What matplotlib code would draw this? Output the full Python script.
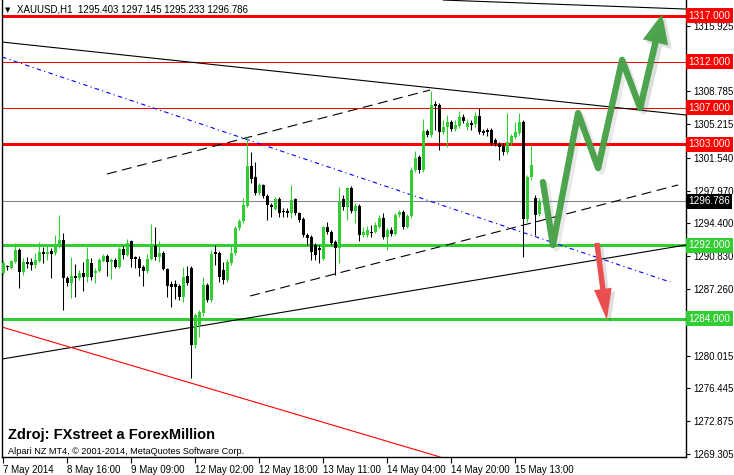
import matplotlib.pyplot as plt
import matplotlib.patheffects as pe
from matplotlib.patches import FancyArrowPatch
from matplotlib.transforms import blended_transform_factory

plt.rcParams['font.family'] = ['Liberation Sans', 'DejaVu Sans']

# XAUUSD H1 candles, one per hour (index = bar number)
opens = [1289.0, 1289.7, 1289.5, 1290.2, 1291.5, 1289.1, 1290.2, 1290.2, 1289.9, 1290.3,
         1291.3, 1291.1, 1291.4, 1291.2, 1291.8, 1292.6, 1288.5, 1287.9, 1288.7, 1288.5,
         1289.0, 1288.6, 1290.1, 1289.0, 1289.2, 1290.3, 1290.8, 1290.2, 1290.4, 1289.7,
         1291.6, 1291.0, 1292.5, 1290.7, 1290.5, 1289.7, 1289.2, 1290.5, 1291.9, 1290.7,
         1291.2, 1289.4, 1287.8, 1287.8, 1287.6, 1286.4, 1288.7, 1289.5, 1281.2, 1283.3,
         1284.6, 1287.7, 1286.1, 1291.3, 1291.2, 1289.3, 1288.2, 1290.1, 1291.2, 1293.9,
         1294.7, 1296.3, 1300.6, 1299.4, 1297.7, 1298.6, 1297.4, 1296.4, 1296.0, 1297.0,
         1295.7, 1295.7, 1295.5, 1297.0, 1295.5, 1294.9, 1293.1, 1292.9, 1292.0, 1291.7,
         1290.5, 1294.0, 1293.5, 1292.4, 1291.7, 1297.0, 1296.2, 1298.2, 1295.7, 1296.3,
         1293.1, 1293.1, 1293.5, 1293.5, 1294.0, 1295.0, 1292.9, 1293.7, 1293.2, 1295.3,
         1295.6, 1294.0, 1295.2, 1300.2, 1301.6, 1300.2, 1304.5, 1304.0, 1307.4, 1307.3,
         1304.3, 1304.9, 1305.4, 1304.7, 1305.0, 1306.0, 1304.9, 1305.3, 1305.2, 1306.1,
         1304.4, 1304.6, 1304.6, 1303.5, 1303.0, 1302.8, 1302.2, 1303.1, 1303.8, 1304.2,
         1305.4, 1294.9, 1299.4, 1297.2, 1295.403]
highs = [1290.4, 1289.9, 1290.4, 1292.3, 1291.7, 1290.6, 1290.7, 1290.6, 1291.2, 1292.4,
         1291.8, 1291.9, 1291.7, 1293.1, 1295.3, 1293.3, 1288.7, 1290.7, 1290.0, 1289.3,
         1290.2, 1291.8, 1290.6, 1289.5, 1290.6, 1291.1, 1291.1, 1290.6, 1290.6, 1291.8,
         1291.9, 1292.7, 1292.6, 1290.9, 1290.9, 1289.9, 1291.1, 1294.3, 1294.0, 1292.5,
         1291.4, 1289.5, 1288.1, 1288.2, 1287.8, 1289.6, 1289.8, 1289.8, 1284.6, 1285.0,
         1288.6, 1287.9, 1291.5, 1292.0, 1291.4, 1290.2, 1290.5, 1292.0, 1294.1, 1294.9,
         1297.2, 1303.8, 1302.2, 1301.1, 1298.8, 1298.7, 1297.6, 1296.6, 1297.3, 1297.3,
         1296.1, 1296.1, 1298.6, 1297.2, 1295.6, 1295.1, 1293.3, 1293.1, 1292.3, 1292.1,
         1294.1, 1294.6, 1293.7, 1292.6, 1298.4, 1297.5, 1298.4, 1298.5, 1296.6, 1296.5,
         1294.0, 1294.1, 1294.2, 1294.5, 1295.3, 1295.5, 1293.9, 1294.0, 1295.5, 1295.9,
         1295.9, 1295.4, 1300.5, 1302.3, 1301.8, 1305.8, 1304.7, 1308.8, 1307.7, 1307.5,
         1305.6, 1306.2, 1305.6, 1305.6, 1306.6, 1306.3, 1305.8, 1305.6, 1306.5, 1307.0,
         1304.7, 1304.8, 1304.8, 1303.7, 1303.3, 1303.1, 1306.4, 1304.1, 1305.4, 1306.4,
         1305.6, 1299.7, 1302.9, 1297.5, 1297.145]
lows = [1288.8, 1289.3, 1289.4, 1290.1, 1287.4, 1288.8, 1289.5, 1289.3, 1289.5, 1290.2,
        1290.1, 1290.4, 1288.5, 1291.0, 1291.7, 1285.0, 1287.6, 1286.3, 1286.4, 1288.2,
        1287.0, 1288.0, 1288.2, 1287.9, 1289.1, 1290.2, 1288.7, 1288.3, 1289.5, 1289.5,
        1290.5, 1290.8, 1289.7, 1289.5, 1288.7, 1287.6, 1289.0, 1290.4, 1290.4, 1290.2,
        1289.3, 1286.4, 1285.3, 1286.2, 1286.1, 1285.8, 1287.7, 1277.6, 1280.8, 1282.0,
        1284.3, 1285.8, 1285.8, 1289.9, 1288.0, 1287.8, 1288.0, 1289.9, 1291.0, 1293.7,
        1294.4, 1296.2, 1298.8, 1297.5, 1297.5, 1297.2, 1294.8, 1295.1, 1295.9, 1295.1,
        1295.1, 1295.1, 1295.0, 1295.3, 1294.5, 1292.9, 1292.0, 1290.4, 1290.4, 1290.1,
        1290.4, 1293.2, 1292.0, 1288.8, 1290.1, 1295.9, 1294.8, 1295.5, 1294.4, 1292.5,
        1292.9, 1292.9, 1292.9, 1293.3, 1293.9, 1292.7, 1291.5, 1293.0, 1293.1, 1295.1,
        1293.8, 1293.9, 1295.0, 1300.0, 1299.9, 1300.0, 1303.8, 1303.8, 1304.6, 1302.4,
        1304.1, 1302.7, 1304.5, 1304.5, 1304.8, 1305.3, 1304.6, 1304.6, 1304.9, 1304.1,
        1304.0, 1303.9, 1302.9, 1302.8, 1301.3, 1301.8, 1301.9, 1302.9, 1303.6, 1304.0,
        1290.7, 1294.5, 1299.1, 1293.1, 1295.233]
closes = [1290.1, 1289.6, 1290.3, 1291.5, 1289.1, 1290.2, 1290.0, 1289.9, 1290.4, 1291.3,
          1291.1, 1291.3, 1291.1, 1292.1, 1292.6, 1288.5, 1287.9, 1288.7, 1288.5, 1289.0,
          1288.6, 1290.5, 1288.6, 1289.2, 1290.4, 1290.8, 1290.2, 1290.4, 1289.7, 1291.6,
          1291.0, 1292.3, 1290.5, 1290.5, 1289.5, 1289.2, 1290.5, 1291.9, 1290.7, 1291.2,
          1289.4, 1287.6, 1287.5, 1287.5, 1286.4, 1288.6, 1287.9, 1281.2, 1284.4, 1284.8,
          1287.7, 1286.1, 1291.1, 1291.1, 1288.6, 1288.2, 1290.2, 1291.2, 1293.9, 1294.7,
          1296.4, 1300.6, 1299.2, 1297.7, 1298.6, 1297.4, 1296.4, 1296.2, 1297.0, 1295.5,
          1295.6, 1295.5, 1296.9, 1295.5, 1294.8, 1293.1, 1292.8, 1291.3, 1291.0, 1291.5,
          1294.0, 1293.5, 1292.3, 1291.7, 1296.7, 1296.2, 1298.2, 1295.7, 1296.3, 1293.1,
          1293.5, 1293.7, 1293.3, 1294.2, 1295.0, 1292.9, 1293.7, 1293.2, 1295.3, 1295.6,
          1294.0, 1295.2, 1300.2, 1301.5, 1300.2, 1304.5, 1304.0, 1307.3, 1307.2, 1304.3,
          1304.9, 1305.4, 1304.7, 1305.1, 1306.0, 1305.5, 1305.3, 1305.1, 1306.1, 1304.3,
          1304.2, 1304.3, 1303.1, 1303.0, 1302.7, 1302.2, 1303.3, 1303.9, 1304.3, 1305.4,
          1294.9, 1299.4, 1300.7, 1295.3, 1296.786]

time_tick_bars = [0, 16, 32, 48, 64, 80, 96, 112, 128]
time_tick_labels = ['7 May 2014', '8 May 16:00', '9 May 09:00', '12 May 02:00', '12 May 18:00',
                    '13 May 11:00', '14 May 04:00', '14 May 20:00', '15 May 13:00']
# 1312.355 and 1283.690 sit under the level boxes, so only their marks are drawn
price_ticks = [1315.925, 1312.355, 1308.785, 1305.215, 1301.540, 1297.970, 1294.400,
               1290.830, 1287.260, 1283.690, 1280.015, 1276.445, 1272.875, 1269.305]
hidden_ticks = [1312.355, 1283.690]

red_levels = [1317.0, 1312.0, 1307.0, 1303.0]
red_widths = [3, 1, 1, 3]
green_levels = [1292.0, 1284.0]
last_price = 1296.786

# trend lines: (bar0, price0, bar1, price1)
solid_black_lines = [(-0.3, 1314.13, 170.7, 1306.19),
                     (-0.3, 1279.64, 170.7, 1292.05),
                     (110.0, 1318.70, 170.7, 1317.72)]
red_trend = (-0.3, 1283.12, 109.2, 1268.98)
dashed_lines = [(61.7, 1286.50, 168.7, 1298.58),
                (25.9, 1299.77, 106.7, 1308.91)]
blue_line = (-0.3, 1312.50, 166.7, 1288.02)

# forecast arrows (bar, price)
green_path_bars = [134.9, 137.4, 143.7, 148.7, 154.7, 159.2, 164.7]
green_path_prices = [1298.90, 1292.05, 1306.41, 1300.42, 1312.18, 1306.95, 1317.18]
red_arrow = (148.4, 1292.27, 150.9, 1283.89)

W, H = 734, 475
BULL = '#32cd32'
FONT = 7


def px(x, y):
    return x / W, 1 - y / H


def main():
    fig = plt.figure(figsize=(W / 100, H / 100), dpi=100)
    ax = fig.add_axes([2 / W, 18 / H, 684 / W, 457 / H])
    ax.set_xlim(-0.325, 170.675)
    ax.set_ylim(1268.98, 1318.705)

    ax.spines['top'].set_visible(False)
    for s in ['left', 'bottom', 'right']:
        ax.spines[s].set_linewidth(1.0)

    # levels
    for lvl, lw in zip(red_levels, red_widths):
        ax.axhline(lvl, color='#ff0000', lw=lw * 0.72, zorder=2)
    for lvl in green_levels:
        ax.axhline(lvl, color=BULL, lw=3 * 0.72, zorder=2)
    ax.axhline(last_price, color='#7f8891', lw=0.8, zorder=1)

    # trend lines
    for x0, y0, x1, y1 in solid_black_lines:
        ax.plot([x0, x1], [y0, y1], color='black', lw=0.8, zorder=2)
    ax.plot(red_trend[::2], red_trend[1::2], color='#ff0000', lw=0.8, zorder=2)
    for x0, y0, x1, y1 in dashed_lines:
        ax.plot([x0, x1], [y0, y1], color='black', lw=0.8, dashes=(9, 5), zorder=2)
    ax.plot(blue_line[::2], blue_line[1::2], color='#0000ff', lw=0.8,
            dashes=(4, 3, 1, 3), zorder=2)

    # candles
    for i, (o, h, l, c) in enumerate(zip(opens, highs, lows, closes)):
        col = BULL if c >= o else 'black'
        ax.vlines(i, l, h, color=col, lw=0.75, zorder=3)
        ax.bar(i, max(abs(c - o), 0.12), bottom=min(o, c), width=0.75,
               color=col, lw=0, zorder=4)

    # green zigzag forecast
    green = '#45a045'
    shadow = [pe.SimpleLineShadow(offset=(2.5, -2.5), shadow_color='#888888', alpha=0.18),
              pe.Normal()]
    ax.plot(green_path_bars[:-1], green_path_prices[:-1], color=green, lw=4.6,
            alpha=0.95, solid_capstyle='round', solid_joinstyle='round',
            path_effects=shadow, zorder=6)
    arr = FancyArrowPatch((green_path_bars[-2], green_path_prices[-2]),
                          (green_path_bars[-1], green_path_prices[-1]),
                          arrowstyle='simple,head_length=1.4,head_width=1.25,tail_width=0.31',
                          mutation_scale=15, color=green, alpha=0.95, lw=0,
                          shrinkA=0, shrinkB=0, zorder=6,
                          path_effects=[pe.SimplePatchShadow(offset=(2.5, -2.5), alpha=0.15),
                                        pe.Normal()])
    ax.add_patch(arr)
    rarr = FancyArrowPatch(red_arrow[:2], red_arrow[2:],
                           arrowstyle='simple,head_length=1.5,head_width=0.85,tail_width=0.26',
                           mutation_scale=15, color='#ea4f4f', lw=0,
                           shrinkA=0, shrinkB=0, zorder=6,
                           path_effects=[pe.SimplePatchShadow(offset=(2.5, -2.5), alpha=0.15),
                                         pe.Normal()])
    ax.add_patch(rarr)

    # axes ticks
    ax.yaxis.tick_right()
    ax.set_yticks(price_ticks)
    ax.set_yticklabels(['' if v in hidden_ticks else f'{v:.3f}' for v in price_ticks])
    ax.tick_params(axis='y', length=3, width=0.8, pad=2, labelsize=FONT)
    ax.set_xticks(time_tick_bars)
    ax.set_xticklabels(time_tick_labels)
    for lab in ax.get_xticklabels():
        lab.set_ha('left')
    ax.tick_params(axis='x', length=4, width=0.8, pad=1.5, labelsize=FONT)

    # price boxes on the right axis
    trans = blended_transform_factory(ax.transAxes, ax.transData)
    boxes = [(v, '#ff0000') for v in red_levels] + [(v, BULL) for v in green_levels]
    boxes.append((last_price, 'black'))
    for v, col in boxes:
        ax.text(1.003, v, f'{v:.3f}', transform=trans, color='white', fontsize=7.2,
                va='center', ha='left', clip_on=False, zorder=10,
                bbox=dict(boxstyle='square,pad=0.25', fc=col, ec='none'))

    # header and captions
    fig.text(*px(5, 10), '\u25bc', fontsize=5, va='center', family='DejaVu Sans')
    fig.text(*px(17, 10), 'XAUUSD,H1  1295.403 1297.145 1295.233 1296.786',
             fontsize=FONT, va='center')
    fig.text(*px(8, 435), 'Zdroj: FXstreet a ForexMillion', fontsize=10.5,
             fontweight='bold', va='center')
    fig.text(*px(8, 451), 'Alpari NZ MT4, \u00a9 2001-2014, MetaQuotes Software Corp.',
             fontsize=6.6, va='center')

    fig.savefig('out.png', dpi=100)


if __name__ == '__main__':
    main()
